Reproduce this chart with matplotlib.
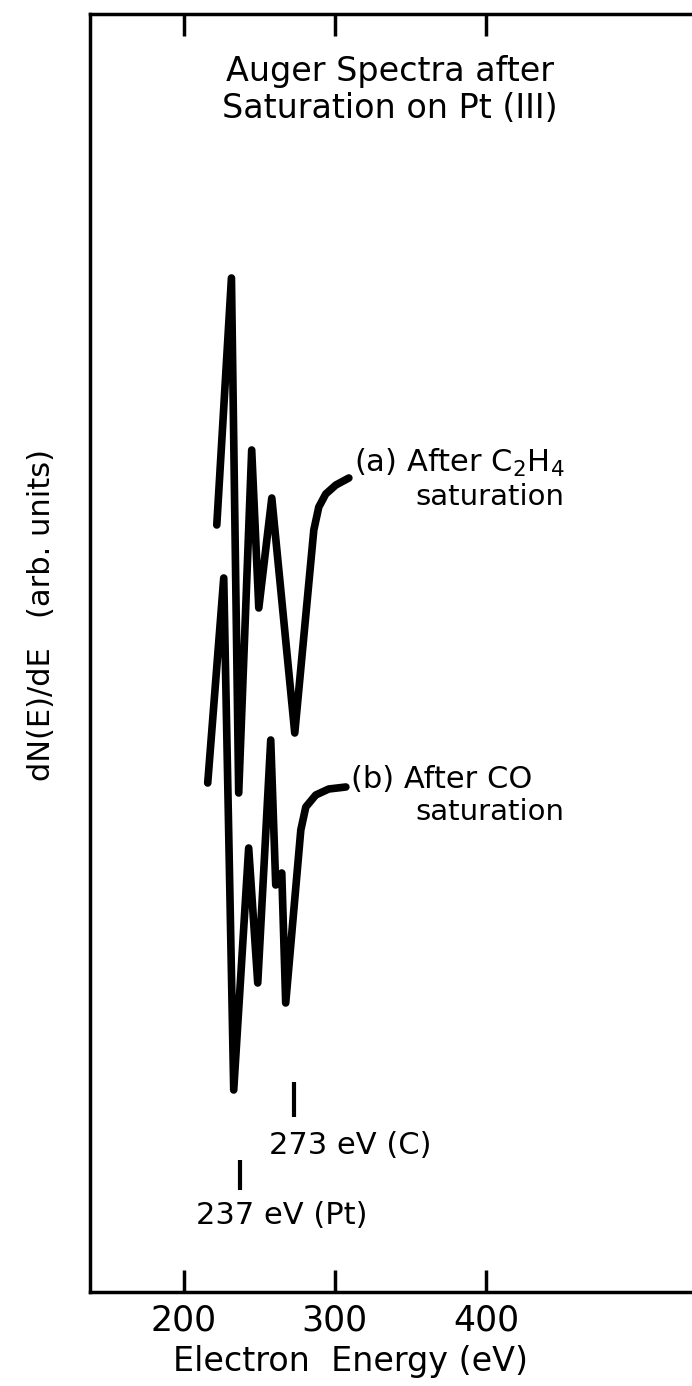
import matplotlib.pyplot as plt
import numpy as np

# curve (a): after C2H4 saturation (energy in eV, dN/dE in arb. units)
energy_a = [221.9, 231.6, 236.4, 245.0, 249.7, 258.3, 273.5, 286.1, 289.4, 294.0, 300.7, 309.3]
signal_a = [76.7, 101.4, 49.9, 84.2, 68.4, 79.4, 55.9, 76.2, 78.5, 79.8, 80.7, 81.4]

# curve (b): after CO saturation
energy_b = [215.9, 226.5, 233.1, 243.0, 249.0, 257.6, 260.9, 264.9, 267.5, 277.5, 280.8, 287.4, 296.0, 307.3]
signal_b = [50.9, 71.4, 20.2, 44.4, 30.9, 55.2, 40.7, 41.9, 28.9, 46.2, 48.5, 49.7, 50.3, 50.5]

# peak markers
mark_energy = [237, 273]
mark_low = [10.2, 17.5]
mark_high = [13.2, 21.0]

xticks = [200, 300, 400]

fig = plt.figure(figsize=(6.92, 13.86), dpi=100)
ax = fig.add_axes([90/692, 94/1386, 609/692, 1278/1386])

ax.plot(energy_a, signal_a, color='black', lw=5.5, solid_capstyle='round', solid_joinstyle='round')
ax.plot(energy_b, signal_b, color='black', lw=5.5, solid_capstyle='round', solid_joinstyle='round')
ax.vlines(mark_energy, mark_low, mark_high, color='black', lw=3)

ax.set_xlim(138, 541)
ax.set_ylim(0, 127.8)
ax.set_xticks(xticks)
ax.set_yticks([])
ax.tick_params(axis='x', direction='in', top=True, length=16, width=2.5, labelsize=25, pad=8)
for s in ['left', 'top', 'bottom']:
    ax.spines[s].set_linewidth(2.5)
ax.spines['right'].set_visible(False)

fig.text(350/692, 1 - 1362/1386, 'Electron  Energy (eV)', fontsize=24, ha='center', va='center')
fig.text(42/692, 1 - 615/1386, 'dN(E)/dE   (arb. units)', rotation=90, fontsize=22,
         ha='center', va='center')

fig.text(390/692, 1 - 72/1386, 'Auger Spectra after', fontsize=24, ha='center', va='center')
fig.text(390/692, 1 - 108/1386, 'Saturation on Pt (III)', fontsize=24, ha='center', va='center')

ax.text(312.5, 82.9, '(a) After C$_2$H$_4$', fontsize=22, va='center')
ax.text(353.5, 79.5, 'saturation', fontsize=21, va='center')
ax.text(310.5, 51.3, '(b) After CO', fontsize=22, va='center')
ax.text(353.5, 48.0, 'saturation', fontsize=21, va='center')
ax.text(256.3, 14.7, '273 eV (C)', fontsize=22, va='center')
ax.text(208, 7.7, '237 eV (Pt)', fontsize=22, va='center')

plt.savefig('out.png', dpi=100)
